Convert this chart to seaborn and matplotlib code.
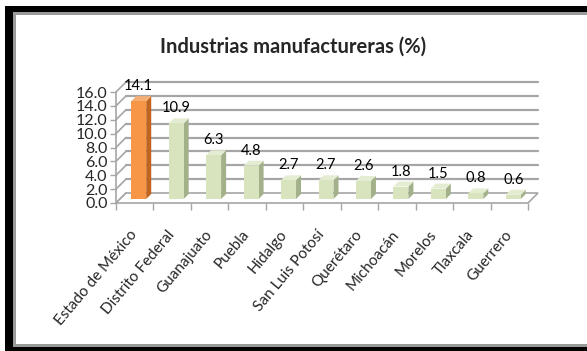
import numpy as np
import pandas as pd
import matplotlib
matplotlib.use("Agg")
import matplotlib.pyplot as plt
import matplotlib.transforms as mtransforms
from matplotlib.patches import Polygon, Rectangle
from matplotlib.lines import Line2D
import seaborn as sns

# --- data -------------------------------------------------------------------
estados = ["Estado de México", "Distrito Federal", "Guanajuato", "Puebla",
           "Hidalgo", "San Luis Potosí", "Querétaro", "Michoacán", "Morelos",
           "Tlaxcala", "Guerrero"]
porcentaje = [14.1, 10.9, 6.3, 4.8, 2.7, 2.7, 2.6, 1.8, 1.5, 0.8, 0.6]
destacado = ["Estado de México"]
marcas_y = [0, 2, 4, 6, 8, 10, 12, 14, 16]
titulo = "Industrias manufactureras (%)"

# --- style ------------------------------------------------------------------
sns.set_theme(style="white")
plt.rcParams["font.family"] = ["Lato", "DejaVu Sans"]

W, H, DPI = 587, 351, 100
GRID = "#A6A6A6"
DEPTH_WALL = 10     # px, depth of the chart walls
BAR_SHIFT = 4       # px, bars sit a little behind the front plane
BAR_DEPTH = 5       # px, depth of each bar

colores = {"dest": ("#F79646", "#C0651F", "#F6AE74"),
           "resto": ("#D7E4BD", "#A3B18A", "#E4ECD2")}

fig = plt.figure(figsize=(W / DPI, H / DPI), dpi=DPI)
fig.patch.set_facecolor("white")


def fig_px(x, y):
    """pixel position (origin top-left) -> figure fraction"""
    return x / W, 1 - y / H


# frame around the chart
for (x0, y0, x1, y1, c) in [(5, 6, 700, 400, "black"),
                            (13, 12, 700, 347, "#9A9A9A"),
                            (16, 15, 700, 344, "white")]:
    fx0, fy1 = fig_px(x0, y0)
    fx1, fy0 = fig_px(x1, y1)
    fig.patches.append(Rectangle((fx0, fy0), fx1 - fx0, fy1 - fy0,
                                 transform=fig.transFigure, facecolor=c,
                                 edgecolor="none", zorder=-10))

ax = fig.add_axes([116 / W, (H - 203) / H, 412 / W, 111 / H])
ax.set_facecolor("none")

df = pd.DataFrame({"estado": estados, "pct": porcentaje})
df["grupo"] = np.where(df["estado"].isin(destacado), "dest", "resto")
paleta = {k: v[0] for k, v in colores.items()}
sns.barplot(data=df, x="estado", y="pct", hue="grupo", palette=paleta,
            width=0.4, dodge=False, legend=False, saturation=1, ax=ax,
            zorder=5)

ax.set_xlim(-0.5, len(estados) - 0.5)
ax.set_ylim(0, 16)
for s in ax.spines.values():
    s.set_visible(False)
ax.set_xlabel("")
ax.set_ylabel("")

to_fig = fig.transFigure.inverted()


def disp(x, y):
    return ax.transData.transform((x, y))


def poly(pts_disp, **kw):
    pts = to_fig.transform(np.asarray(pts_disp))
    p = Polygon(pts, closed=True, transform=fig.transFigure, **kw)
    fig.patches.append(p)
    return p


def line(pts_disp, **kw):
    pts = to_fig.transform(np.asarray(pts_disp))
    l = Line2D(pts[:, 0], pts[:, 1], transform=fig.transFigure, **kw)
    fig.lines.append(l)


xl, xr = ax.get_xlim()
d = np.array([DEPTH_WALL, DEPTH_WALL])

# floor
fl, fr = disp(xl, 0), disp(xr, 0)
poly([fl, fr, fr + d, fl + d], facecolor="white", edgecolor=GRID, lw=1.2,
     zorder=1)

# back wall gridlines and side wall diagonals
for v in marcas_y:
    a, b = disp(xl, v), disp(xr, v)
    if v > 0:
        line([a + d, b + d], color=GRID, lw=1.6, zorder=1)
    line([a, a + d], color=GRID, lw=1.2, zorder=1)

# front vertical axis
line([disp(xl, 0), disp(xl, 16)], color=GRID, lw=1.2, zorder=1)

# bars: shift behind front plane and add side / top faces
shift = mtransforms.ScaledTranslation(BAR_SHIFT / DPI, BAR_SHIFT / DPI,
                                      fig.dpi_scale_trans)
offs = np.array([BAR_SHIFT, BAR_SHIFT])
bd = np.array([BAR_DEPTH, BAR_DEPTH])
for p in ax.patches:
    h = p.get_height()
    if not np.isfinite(h) or h <= 0:
        continue
    p.set_transform(ax.transData + shift)
    p.set_edgecolor("none")
    x0 = p.get_x()
    x1 = x0 + p.get_width()
    i = int(round((x0 + x1) / 2))
    grupo = df["grupo"].iloc[i]
    _, lado, tapa = colores[grupo]
    br = disp(x1, 0) + offs
    tl = disp(x0, h) + offs
    tr = disp(x1, h) + offs
    poly([br, tr, tr + bd, br + bd], facecolor=lado, edgecolor="none",
         zorder=2)
    poly([tl, tr, tr + bd, tl + bd], facecolor=tapa, edgecolor="none",
         zorder=2)

# the front faces are drawn over the extra faces
ax.set_zorder(3)

# value labels
for i, v in enumerate(porcentaje):
    ax.annotate(f"{v:.1f}", (i, v), xytext=(4, 19),
                textcoords="offset pixels", ha="center", va="center",
                fontsize=10.5, color="black", annotation_clip=False)

# ticks
ax.set_yticks(marcas_y)
ax.set_yticklabels([f"{v:.1f}" for v in marcas_y], fontsize=11.5)
ax.tick_params(axis="y", which="major", left=True, length=4, width=1,
               color=GRID, pad=2)
ax.set_xticks(range(len(estados)))
ax.set_xticks(np.arange(-0.5, len(estados), 1), minor=True)
ax.tick_params(axis="x", which="major", bottom=False, length=0, pad=21)
ax.tick_params(axis="x", which="minor", bottom=True, length=5, width=1,
               color=GRID)
ax.set_xticklabels(estados, rotation=50, ha="right", va="center",
                   rotation_mode="anchor", fontsize=11)

fig.text(293 / W, 1 - 47 / H, titulo, ha="center", va="center",
         fontsize=14.5, fontweight="bold")

fig.savefig("out.png", dpi=DPI)
